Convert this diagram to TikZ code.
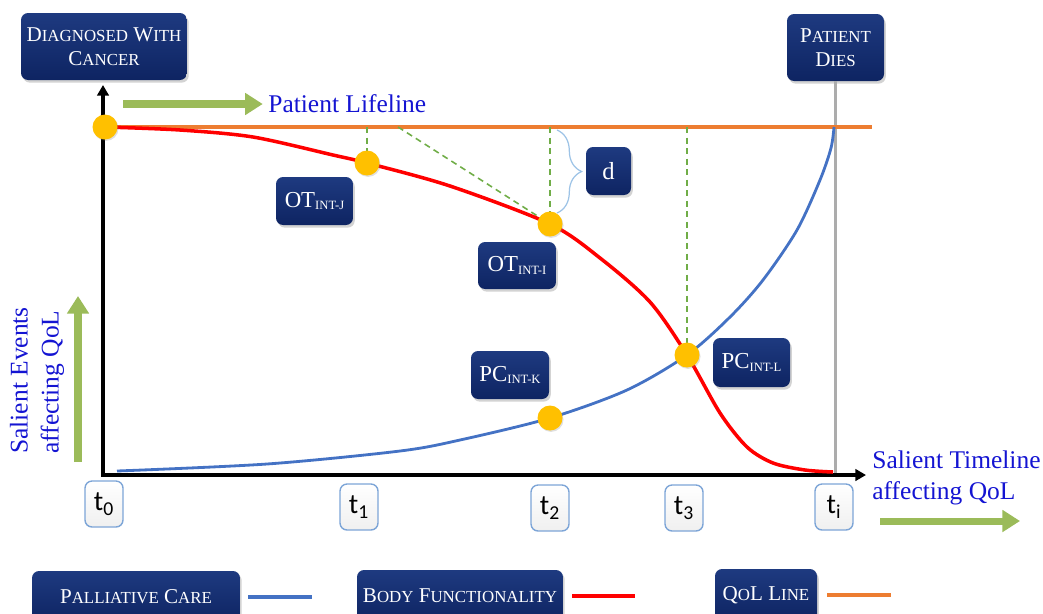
\documentclass[tikz,border=0pt]{standalone}
\usepackage{fontspec}
\setmainfont{Liberation Serif}
\newfontfamily\calfont{Carlito}
\usetikzlibrary{arrows.meta,shadows,decorations.pathreplacing}
\definecolor{boxnavy}{RGB}{14,36,98}
\definecolor{boxnavytop}{RGB}{30,58,128}
\definecolor{lifegreen}{RGB}{155,187,89}
\definecolor{dashgreen}{RGB}{112,173,71}
\definecolor{qolorange}{RGB}{237,125,49}
\definecolor{pcblue}{RGB}{68,114,196}
\definecolor{bodyred}{RGB}{255,0,0}
\definecolor{dotyellow}{RGB}{255,192,0}
\definecolor{labelblue}{RGB}{20,20,210}
\definecolor{tborder}{RGB}{125,165,215}
\definecolor{bracecol}{RGB}{157,195,230}
\newcommand\scword[2]{{\fontsize{12}{13.6}\selectfont #1}{\fontsize{9.6}{13.6}\selectfont #2}}
\newcommand\intsub[1]{\raisebox{-1.5pt}{\fontsize{7.2}{8}\selectfont #1}}
\tikzset{
  navybox/.style={rounded corners=4pt, top color=boxnavytop, bottom color=boxnavy, text=white,
    align=center, inner sep=2pt, font=\fontsize{12}{13.6}\selectfont,
    drop shadow={shadow xshift=1pt, shadow yshift=-1.5pt, opacity=0.35}},
  tbox/.style={rounded corners=4pt, draw=tborder, line width=0.8pt, top color=white, bottom color=black!6,
    minimum width=0.76cm, minimum height=0.92cm, inner sep=0pt, font=\calfont\fontsize{16}{18}\selectfont},
  ydot/.style={circle, fill=dotyellow, minimum size=0.5cm, inner sep=0pt,
    drop shadow={shadow xshift=0.6pt, shadow yshift=-0.8pt, opacity=0.25}},
  bluetext/.style={text=labelblue, inner sep=0pt, font=\fontsize{14.5}{17.6}\selectfont},
  bigarrow/.style={lifegreen, line width=4pt, -{Triangle[length=10pt,width=12pt]}},
  gdash/.style={dashgreen, line width=0.9pt, dash pattern=on 3.5pt off 2.5pt},
}
\begin{document}
\begin{tikzpicture}[x=0.02cm,y=-0.02cm]
\useasboundingbox (0,0) rectangle (1043,613);
\clip (0,0) rectangle (1043,613);
% events at the top
\node[navybox, minimum width=3.32cm, minimum height=1.34cm] (diag) at (104,46.5) {\scword{D}{IAGNOSED} \scword{W}{ITH}\\\scword{C}{ANCER}};
\node[navybox, minimum width=1.94cm, minimum height=1.34cm] (dies) at (835.5,47.5) {\scword{P}{ATIENT}\\\scword{D}{IES}};
% axes
\coordinate (O) at (103,475);
\coordinate (ytop) at (103,85);
\coordinate (xend) at (866,475);
\draw[gray!65, line width=1.2pt] (dies.south) -- (dies.south |- O);
\draw[line width=2pt, {Triangle[length=6pt,width=6.5pt]}-{Triangle[length=6pt,width=6.5pt]}] (ytop) -- (O) -- (xend);
% QoL line
\coordinate (q0) at (103,127);
\coordinate (q1) at (872,127);
\draw[qolorange, line width=2.2pt] (q0) -- (q1);
% points of interest
\coordinate (p0) at (105,127);
\coordinate (pj) at (367,163);
\coordinate (pi) at (550,224);
\coordinate (pl) at (687,355);
\coordinate (pk) at (550,418);
\coordinate (d0) at (398,127);
\draw[gdash] (pj |- q0) -- (pj);
\draw[gdash] (pi |- q0) -- (pi);
\draw[gdash] (pl |- q0) -- (pl);
\draw[gdash] (d0) -- (pi);
% curves
\draw[pcblue, line width=1.6pt] plot[smooth] coordinates {(117,471) (267,464) (400,451) (460,440) (550,418) (627,390) (687,355) (730,317) (763,280) (797,230) (820,180) (831,148) (834,127)};
\draw[bodyred, line width=2pt] plot[smooth] coordinates {(105,127) (180,130) (253,137) (333,155) (367,163) (450,186) (550,224) (600,258) (650,302) (687,355) (720,413) (747,447) (773,463) (805,470) (833,472)};
\node[ydot] (dot0) at (p0) {};
\node[ydot] (dotj) at (pj) {};
\node[ydot] (doti) at (pi) {};
\node[ydot] (dotl) at (pl) {};
\node[ydot] (dotk) at (pk) {};
% labels of the points
\node[navybox, minimum width=1.54cm, minimum height=0.96cm] (otj) at (314.5,201) {\fontsize{13}{15}\selectfont OT\intsub{INT-J}};
\node[navybox, minimum width=1.56cm, minimum height=0.94cm] (oti) at (517,265.5) {\fontsize{13}{15}\selectfont OT\intsub{INT-I}};
\node[navybox, minimum width=1.56cm, minimum height=0.96cm] (pck) at (510,375) {\fontsize{13}{15}\selectfont PC\intsub{INT-K}};
\node[navybox, minimum width=1.54cm, minimum height=0.98cm] (pcl) at (751.5,362.5) {\fontsize{13}{15}\selectfont PC\intsub{INT-L}};
\node[navybox, minimum width=0.9cm, minimum height=0.96cm, font=\fontsize{14}{16}\selectfont] (dbox) at (608.5,171) {d};
\draw[bracecol, line width=0.7pt, decorate, decoration={brace, amplitude=14pt}] (557,130) -- (557,213);
% lifeline and axis texts
\node[bluetext, anchor=west] (lifeline) at (268,104) {Patient Lifeline};
\coordinate (la0) at (123,104);
\draw[bigarrow] (la0) -- ([xshift=-3pt]lifeline.west);
\node[bluetext, rotate=90, align=left, anchor=west] (events) at (37,454) {Salient Events\\affecting QoL};
\coordinate (ea0) at (78,462);
\coordinate (ea1) at (78,296);
\draw[bigarrow] (ea0) -- (ea1);
\node[bluetext, align=left, anchor=west] (timeline) at (872,478) {Salient Timeline\\affecting QoL};
\coordinate (ta0) at (880,521);
\coordinate (ta1) at (1020,521);
\draw[bigarrow] (ta0) -- (ta1);
% time marks
\node[tbox] (t0) at (104,504) {t\textsubscript{0}};
\node[tbox] (t1) at (359,507) {t\textsubscript{1}};
\node[tbox] (t2) at (550,508) {t\textsubscript{2}};
\node[tbox] (t3) at (684,508) {t\textsubscript{3}};
\node[tbox] (ti) at (834,507) {t\textsubscript{i}};
% legend
\node[navybox, minimum width=4.16cm, minimum height=1.04cm] (pall) at (136,597) {\scword{P}{ALLIATIVE} \scword{C}{ARE}};
\draw[pcblue, line width=2.3pt] ([xshift=0.16cm]pall.east) -- ++(64,0);
\node[navybox, minimum width=4.12cm, minimum height=1.04cm] (body) at (460,596) {\scword{B}{ODY} \scword{F}{UNCTIONALITY}};
\draw[bodyred, line width=2.3pt] ([xshift=0.18cm]body.east) -- ++(63,0);
\node[navybox, minimum width=2.04cm, minimum height=1.04cm] (qol) at (766,595) {\scword{Q}{O}\scword{L}{} \scword{L}{INE}};
\draw[qolorange, line width=2.3pt] ([xshift=0.2cm]qol.east) -- ++(64,0);
\end{tikzpicture}
\end{document}
